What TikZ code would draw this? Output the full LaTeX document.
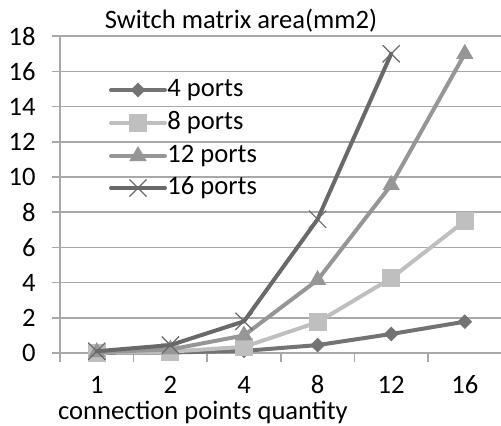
\documentclass[tikz,border=0pt]{standalone}
\usepackage{fontspec}
\setmainfont{Carlito}
\usetikzlibrary{shapes.geometric, shapes.misc}

\definecolor{gridgray}{gray}{0.66}
\definecolor{ser4}{gray}{0.45}
\definecolor{ser8}{gray}{0.75}
\definecolor{ser12}{gray}{0.59}
\definecolor{ser16}{gray}{0.41}

\begin{document}
\begin{tikzpicture}[x=0.5pt, y=-0.5pt, font=\fontsize{13.3}{15}\selectfont,
    gridline/.style={line width=0.8pt, draw=gridgray},
    serline/.style={line width=2pt, line join=round, line cap=round},
    dmark/.style={diamond, fill=ser4, inner sep=0pt, minimum size=7.5pt},
    smark/.style={rectangle, fill=ser8, inner sep=0pt, minimum size=9pt},
    tmark/.style={regular polygon, regular polygon sides=3, fill=ser12, inner sep=0pt, minimum size=10pt},
    xmark/.style={cross out, draw=ser16, line width=0.6pt, inner sep=0pt, minimum size=8pt}]

    \useasboundingbox (0,0) rectangle (501,425);

    % title
    \node[anchor=base, inner sep=0pt] (title) at (241,28) {Switch matrix area(mm2)};

    % grid lines and value labels
    \foreach \v in {0,2,...,18} {
        \draw[gridline] (52,{353-17.6*\v}) -- (501,{353-17.6*\v});
        \node[anchor=east, inner sep=0pt] (yl\v) at (36,{353-17.6*\v}) {\v};
    }

    % axis and ticks
    \draw[gridline] (60,37) -- (60,362);
    \foreach \i in {1,...,6}
        \draw[gridline] ({60+73.6*\i},353) -- ({60+73.6*\i},362);

    % category labels
    \foreach \c [count=\i] in {1,2,4,8,12,16}
        \node[anchor=base, inner sep=0pt] (xl\i) at ({60+73.6*(\i-0.5)},393) {\c};
    \node[anchor=base, inner sep=0pt] (xtitle) at (203,419) {connection points quantity};

    % data
    \begin{scope}[shift={(60,353)}, x=36.8pt, y=8.8pt]
        % 4 ports
        \foreach \v [count=\i] in {0.01,0.03,0.12,0.45,1.08,1.78}
            \coordinate (a\i) at ({\i-0.5},\v);
        \draw[serline, ser4] (a1) -- (a2) -- (a3) -- (a4) -- (a5) -- (a6);
        \foreach \i in {1,...,6} \node[dmark] (am\i) at (a\i) {};

        % 8 ports
        \foreach \v [count=\i] in {0.02,0.08,0.35,1.75,4.25,7.5}
            \coordinate (b\i) at ({\i-0.5},\v);
        \draw[serline, ser8] (b1) -- (b2) -- (b3) -- (b4) -- (b5) -- (b6);
        \foreach \i in {1,...,6} \node[smark] (bm\i) at (b\i) {};

        % 12 ports
        \foreach \v [count=\i] in {0.05,0.2,1.0,4.15,9.55,17.0}
            \coordinate (c\i) at ({\i-0.5},\v);
        \draw[serline, ser12] (c1) -- (c2) -- (c3) -- (c4) -- (c5) -- (c6);
        \foreach \i in {1,...,6} \node[tmark] (cm\i) at (c\i) {};

        % 16 ports
        \foreach \v [count=\i] in {0.1,0.45,1.8,7.6,17.0}
            \coordinate (d\i) at ({\i-0.5},\v);
        \draw[serline, ser16] (d1) -- (d2) -- (d3) -- (d4) -- (d5);
        \foreach \i in {1,...,5} \node[xmark] (dm\i) at (d\i) {};
    \end{scope}

    % legend
    \foreach \y/\col/\mk/\txt [count=\k] in {90/ser4/dmark/4 ports, 123/ser8/smark/8 ports,
                                         156/ser12/tmark/12 ports, 188/ser16/xmark/16 ports} {
        \coordinate (ls\k) at (111,\y);
        \coordinate (le\k) at (165,\y);
        \draw[serline, \col] (ls\k) -- (le\k);
        \node[\mk] (lm\k) at (138,\y) {};
        \node[anchor=west, inner sep=1pt] (lt\k) at (le\k) {\txt};
    }

\end{tikzpicture}
\end{document}
